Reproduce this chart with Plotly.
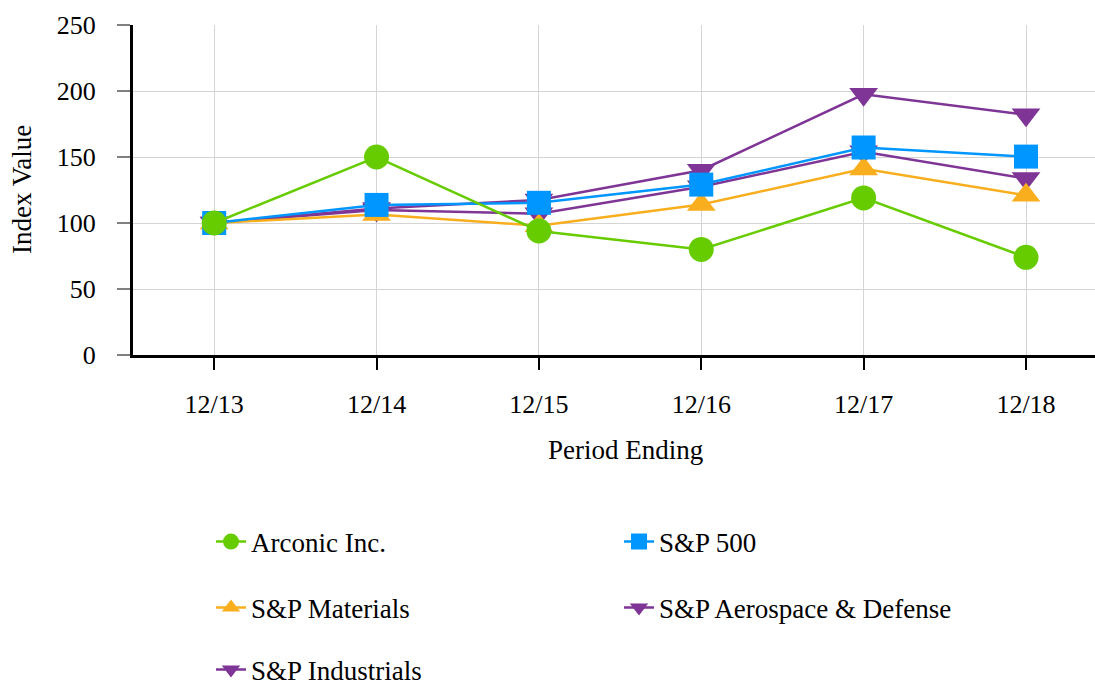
import plotly.graph_objects as go

periods = ["12/13", "12/14", "12/15", "12/16", "12/17", "12/18"]
arconic = [100, 150, 94, 80, 119, 74]
sp500 = [100, 113.7, 115.3, 129.1, 157.2, 150.3]
sp_materials = [100, 106.5, 98, 114, 141, 121]
sp_aerospace = [100, 111, 117.5, 140, 197.5, 182]
sp_industrials = [100, 109.8, 107, 127.4, 154, 133.7]
yticks = [0, 50, 100, 150, 200, 250]

FONT = "Liberation Serif"
GREEN = "#66CC00"
BLUE = "#0096FF"
ORANGE = "#F9AE1E"
PURPLE = "#7F3596"

series = [
    ("S&P Industrials", sp_industrials, PURPLE, "triangle-down", 25, "legend5"),
    ("S&P Aerospace & Defense", sp_aerospace, PURPLE, "triangle-down", 25, "legend4"),
    ("S&P Materials", sp_materials, ORANGE, "triangle-up", 25, "legend3"),
    ("S&P 500", sp500, BLUE, "square", 24, "legend2"),
    ("Arconic Inc.", arconic, GREEN, "circle", 25, "legend"),
]

fig = go.Figure()
for name, vals, color, sym, size, leg in series:
    fig.add_trace(go.Scatter(
        x=periods, y=vals, name=name, mode="lines+markers",
        line=dict(color=color, width=2.5),
        marker=dict(color=color, symbol=sym, size=size),
        legend=leg, showlegend=True,
    ))

W, H = 1095, 685
L, T, R, B = 133, 25, 1095, 355

FS = 27
TFS = 26
legfont = dict(family=FONT, size=FS, color="#000000")
def leg(xpix, ypix):
    return dict(x=xpix / W, y=1 - ypix / H, xref="container", yref="container",
                xanchor="left", yanchor="middle",
                font=legfont, bgcolor="rgba(0,0,0,0)", itemsizing="trace",
                orientation="v", borderwidth=0)

fig.update_layout(
    width=W, height=H,
    margin=dict(l=L, r=W - R, t=T, b=H - B, pad=0, autoexpand=False),
    paper_bgcolor="white", plot_bgcolor="white",
    font=dict(family=FONT, size=FS, color="#000000"),
    legend=leg(211, 542),
    legend2=leg(619, 542),
    legend3=leg(211, 608),
    legend4=leg(619, 608),
    legend5=leg(211, 670),
    xaxis=dict(
        type="category", range=[-0.5, 5.425],
        showgrid=True, gridcolor="#d4d4d4", gridwidth=1,
        showline=True, linecolor="#000000", linewidth=3,
        ticks="outside", ticklen=12, tickcolor="#000000", tickwidth=1.5,
        ticklabelstandoff=12,
        tickfont=dict(family=FONT, size=TFS),
        zeroline=False,
    ),
    yaxis=dict(
        range=[0, 250], tickvals=yticks,
        showgrid=True, gridcolor="#d4d4d4", gridwidth=1,
        showline=True, linecolor="#000000", linewidth=3,
        ticks="outside", ticklen=13, tickcolor="#808080", tickwidth=1.5,
        ticklabelstandoff=16,
        tickfont=dict(family=FONT, size=TFS),
        zeroline=False,
    ),
    annotations=[
        dict(text="Period Ending", xref="paper", yref="paper",
             x=(625 - L) / (R - L), y=-(450 - B) / (B - T),
             xanchor="center", yanchor="middle", showarrow=False,
             font=dict(family=FONT, size=FS)),
        dict(text="Index Value", xref="paper", yref="paper",
             x=-(L - 22) / (R - L), y=(B - 190) / (B - T),
             xanchor="center", yanchor="middle", showarrow=False, textangle=-90,
             font=dict(family=FONT, size=FS)),
    ],
)

fig.write_html(
    "out.html",
    config={"displayModeBar": False},
    post_script="document.body.style.margin='0';document.body.style.overflow='hidden';",
)
